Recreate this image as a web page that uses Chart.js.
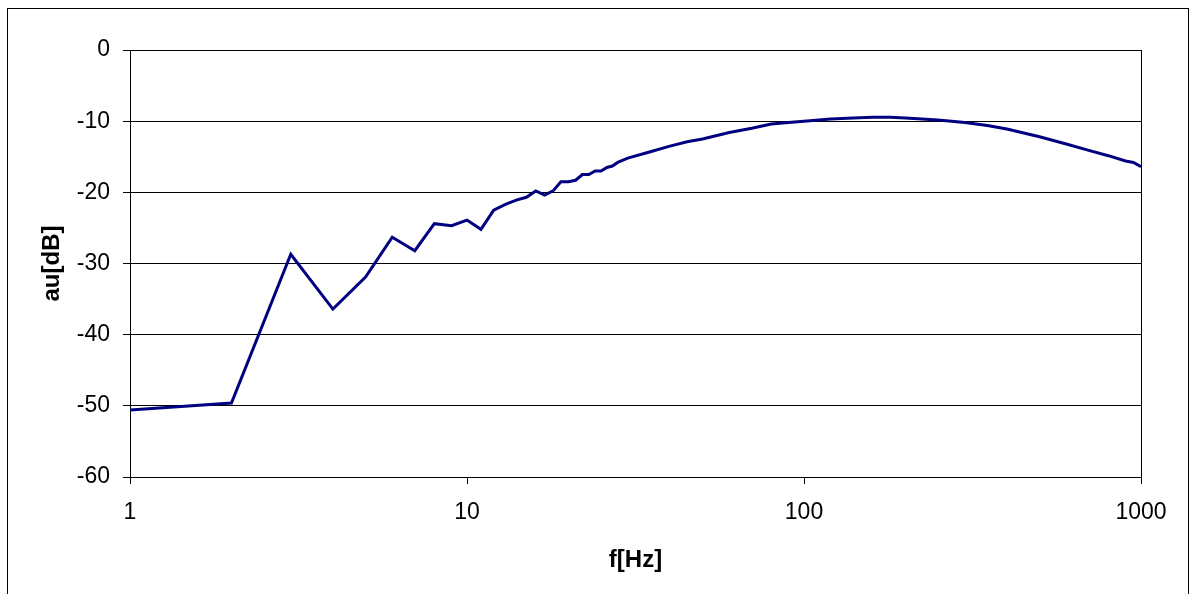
<!DOCTYPE html>
<html>
<head>
<meta charset="utf-8">
<script src="https://cdn.jsdelivr.net/npm/chart.js@4"></script>
<style>
  html, body { margin: 0; padding: 0; background: #fff; }
  #wrap { width: 1194px; height: 594px; position: relative; }
</style>
</head>
<body>
<div id="wrap"><canvas id="grafica"></canvas></div>
<script>
// frecuencias (Hz) y amplitud (dB)
const frecuencias = [1, 2, 3, 4, 5, 6, 7, 8, 9, 10, 11, 12, 13, 14, 15, 16, 17, 18, 19, 20,
  21, 22, 23, 24, 25, 26, 27, 28, 30, 35, 40, 45, 50, 60, 70, 80, 90, 100, 120, 140, 160,
  180, 200, 250, 300, 350, 400, 500, 600, 700, 800, 900, 950, 1000];
const amplitud = [-50.6, -49.6, -28.7, -36.4, -31.9, -26.3, -28.2, -24.4, -24.7, -23.9, -25.2,
  -22.5, -21.7, -21.1, -20.7, -19.8, -20.4, -19.8, -18.5, -18.5, -18.3, -17.5, -17.5, -17.0,
  -17.0, -16.5, -16.3, -15.8, -15.2, -14.3, -13.5, -12.9, -12.5, -11.6, -11.0, -10.4, -10.2,
  -10.0, -9.7, -9.55, -9.45, -9.45, -9.55, -9.85, -10.2, -10.6, -11.1, -12.2, -13.2, -14.1,
  -14.85, -15.6, -15.8, -16.4];
const ticksX = [1, 10, 100, 1000];

const fuente = "'Liberation Sans', Arial, sans-serif";

// borde derecho del area de trazado y marco exterior
const marco = {
  id: 'marco',
  afterDraw(chart) {
    const ctx = chart.ctx;
    const a = chart.chartArea;
    ctx.save();
    ctx.strokeStyle = '#000';
    ctx.lineWidth = 1;
    ctx.beginPath();
    ctx.moveTo(Math.round(a.right) + 0.5, a.top);
    ctx.lineTo(Math.round(a.right) + 0.5, a.bottom);
    ctx.stroke();
    ctx.strokeRect(7.5, 8.5, 1181, 600);
    ctx.restore();
  }
};

const ctx = document.getElementById('grafica').getContext('2d');
new Chart(ctx, {
  type: 'line',
  data: {
    datasets: [{
      data: frecuencias.map((f, i) => ({ x: f, y: amplitud[i] })),
      borderColor: '#000080',
      borderWidth: 3,
      pointRadius: 0,
      tension: 0,
      fill: false
    }]
  },
  options: {
    responsive: true,
    maintainAspectRatio: false,
    animation: false,
    layout: { padding: { top: 50, right: 53, left: 0, bottom: 0 } },
    plugins: { legend: { display: false }, tooltip: { enabled: false } },
    scales: {
      x: {
        type: 'logarithmic',
        min: 1,
        max: 1000,
        afterBuildTicks: (s) => { s.ticks = ticksX.map(v => ({ value: v })); },
        afterFit: (s) => { s.height = 117; },
        ticks: {
          color: '#000',
          padding: 15,
          maxRotation: 0,
          autoSkip: false,
          font: { family: fuente, size: 23 },
          callback: (v) => String(v)
        },
        grid: { drawOnChartArea: false, drawTicks: true, tickLength: 7, color: '#000' },
        border: { color: '#000' },
        title: {
          display: true,
          text: 'f[Hz]',
          color: '#000',
          font: { family: fuente, size: 24, weight: 'bold' },
          padding: { top: 0, bottom: 19.6 }
        }
      },
      y: {
        min: -60,
        max: 0,
        afterFit: (s) => { s.width = 130; },
        ticks: {
          stepSize: 10,
          color: '#000',
          padding: 13,
          font: { family: fuente, size: 23 }
        },
        grid: { color: '#000', tickLength: 7 },
        border: { color: '#000' },
        title: {
          display: true,
          text: 'au[dB]',
          color: '#000',
          font: { family: fuente, size: 24, weight: 'bold' },
          padding: { top: 37.6, bottom: 0 }
        }
      }
    }
  },
  plugins: [marco]
});
</script>
</body>
</html>
